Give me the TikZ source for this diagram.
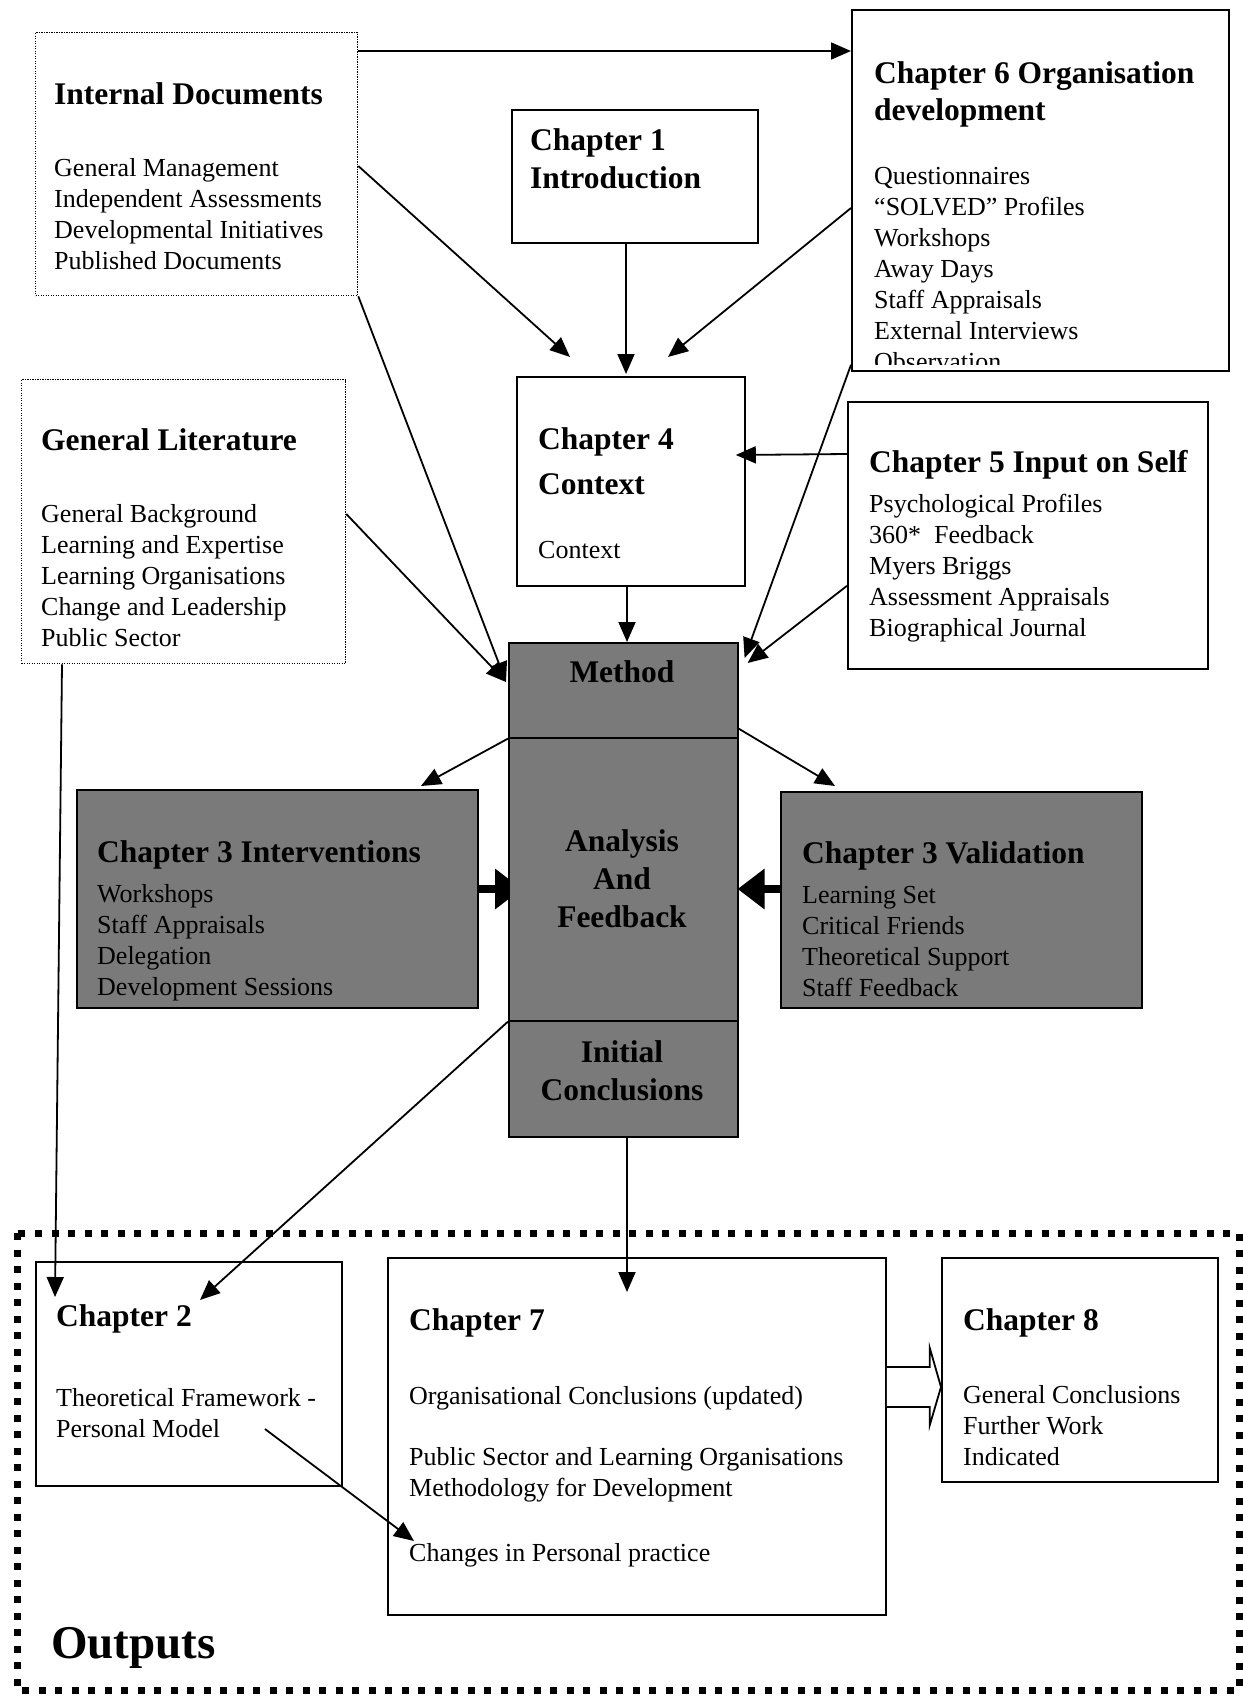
\documentclass[tikz,border=0pt]{standalone}
\usepackage{fontspec}
\setmainfont{Liberation Serif}
\usetikzlibrary{arrows.meta,backgrounds,calc}
\begin{document}
\begin{tikzpicture}[x=1pt,y=-1pt,
  box/.style={draw=black,line width=1.8pt,anchor=north west,inner sep=0pt},
  dotbox/.style={draw=black,line width=1.3pt,dash pattern=on 1.2pt off 1.3pt,anchor=north west,inner sep=0pt},
  graybox/.style={draw=black,line width=1.6pt,fill=black!52,anchor=north west,inner sep=0pt},
  ttl/.style={font=\fontsize{31.5}{37}\selectfont\bfseries,anchor=base west,inner sep=0pt,align=left},
  body/.style={font=\fontsize{26}{31}\selectfont,anchor=base west,inner sep=0pt,align=left},
  ctr/.style={font=\fontsize{31.5}{38}\selectfont\bfseries,anchor=base,inner sep=0pt,align=center},
  arr/.style={line width=1.8pt,-{Triangle[length=20pt,width=17pt]}},
  fatarr/.style={line width=8pt,-{Triangle[length=27pt,width=39pt]}},
  outline/.style={line width=7pt,dash pattern=on 7pt off 9.5pt},
]
\useasboundingbox (0,0) rectangle (1242,1697);

% ---------- boxes ----------
\node[dotbox,minimum width=322pt,minimum height=263pt] (intdoc) at (35,32) {};
\node[box,minimum width=246pt,minimum height=133pt] (ch1) at (511,109) {};
\node[box,minimum width=377pt,minimum height=361pt] (ch6) at (851,9) {};
\node[dotbox,minimum width=324pt,minimum height=284pt] (genlit) at (21,379) {};
\node[box,minimum width=228pt,minimum height=209pt] (ch4) at (516,376) {};
\node[box,minimum width=360pt,minimum height=267pt] (ch5) at (847,401) {};
\node[graybox,minimum width=229pt,minimum height=95pt] (method) at (508,642) {};
\node[graybox,minimum width=229pt,minimum height=283pt] (analysis) at (508,737) {};
\node[graybox,minimum width=229pt,minimum height=116pt] (initial) at (508,1020) {};
\node[graybox,minimum width=401pt,minimum height=218pt] (interv) at (76,789) {};
\node[graybox,minimum width=361pt,minimum height=216pt] (valid) at (780,791) {};
\node[box,minimum width=306pt,minimum height=224pt] (ch2) at (35,1261) {};
\node[box,minimum width=498pt,minimum height=357pt] (ch7) at (387,1257) {};
\node[box,minimum width=276pt,minimum height=224pt] (ch8) at (941,1257) {};
\draw[outline] (17,1233) rectangle (1239,1690);

% ---------- texts (base = baseline of the last line) ----------
\node[ttl] (intdocT) at (54,104) {Internal Documents};
\node[body] (intdocB) at (54,269) {General Management\\Independent Assessments\\Developmental Initiatives\\Published Documents};

\node[ttl,font=\fontsize{31.5}{38}\selectfont\bfseries] (ch1T) at (530,188) {Chapter 1\\Introduction};

\node[ttl] (ch6T) at (874,120) {Chapter 6 Organisation\\development};
\begin{scope}
\clip (851,9) rectangle (1228,364);
\node[body] (ch6B) at (874,370) {Questionnaires\\``SOLVED'' Profiles\\Workshops\\Away Days\\Staff Appraisals\\External Interviews\\Observation};
\end{scope}

\node[ttl] (genlitT) at (41,450) {General Literature};
\node[body] (genlitB) at (41,646) {General Background\\Learning and Expertise\\Learning Organisations\\Change and Leadership\\Public Sector};

\node[ttl,font=\fontsize{31.5}{45}\selectfont\bfseries] (ch4T) at (538,494) {Chapter 4\\Context};
\node[body] (ch4B) at (538,558) {Context};

\node[ttl] (ch5T) at (869,472) {Chapter 5 Input on Self};
\node[body] (ch5B) at (869,636) {Psychological Profiles\\360*\ \ Feedback\\Myers Briggs\\Assessment Appraisals\\Biographical Journal};

\node[ctr] (methodT) at (622,682) {Method};
\node[ctr] (analysisT) at (622,927) {Analysis\\And\\Feedback};
\node[ctr] (initialT) at (622,1100) {Initial\\Conclusions};

\node[ttl] (intervT) at (97,862) {Chapter 3 Interventions};
\node[body] (intervB) at (97,995) {Workshops\\Staff Appraisals\\Delegation\\Development Sessions};

\node[ttl] (validT) at (802,863) {Chapter 3 Validation};
\node[body] (validB) at (802,996) {Learning Set\\Critical Friends\\Theoretical Support\\Staff Feedback};

\node[ttl] (ch2T) at (56,1326) {Chapter 2};
\node[body] (ch2B) at (56,1437) {Theoretical Framework -\\Personal Model};

\node[ttl] (ch7T) at (409,1330) {Chapter 7};
\node[body] (ch7a) at (409,1404) {Organisational Conclusions (updated)};
\node[body] (ch7b) at (409,1496) {Public Sector and Learning Organisations\\Methodology for Development};
\node[body] (ch7c) at (409,1561) {Changes in Personal practice};

\node[ttl] (ch8T) at (963,1330) {Chapter 8};
\node[body] (ch8B) at (963,1465) {General Conclusions\\Further Work\\Indicated};

\node[ttl,font=\fontsize{47}{50}\selectfont\bfseries] (outT) at (51,1658) {Outputs};

% ---------- connectors ----------
\draw[arr] ($(intdoc.north east)+(0,19)$) -- ($(ch6.north west)+(0,42)$);
\draw[arr] ($(intdoc.north east)+(0,134)$) -- ($(ch4.north west)+(54,-19)$);
\draw[arr] ($(ch1.south west)+(115,0)$) -- ($(ch4.north west)+(110,-2)$);
\draw[arr] ($(ch6.north west)+(0,199)$) -- ($(ch4.north west)+(152,-19)$);
\draw[arr] (intdoc.south east) -- ($(method.north west)+(-2,40)$);
\draw[arr] ($(genlit.north east)+(0,135)$) -- ($(method.north west)+(-2,40)$);
\draw[arr] ($(ch6.south west)+(0,-7)$) -- ($(method.north east)+(6,16)$);
\draw[arr] ($(ch5.south west)+(0,-84)$) -- ($(method.north east)+(9,21)$);
\draw[arr] ($(ch5.north west)+(0,53)$) -- ($(ch4.north east)+(-10,79)$);
\draw[arr] ($(ch4.south west)+(111,0)$) -- ($(method.north west)+(119,0)$);
\draw[arr] (method.south west) -- ($(interv.north west)+(345,-3)$);
\draw[arr] ($(method.south east)+(0,-10)$) -- ($(valid.north west)+(55,-5)$);
\begin{pgfonlayer}{background}
\draw[fatarr] ($(interv.north east)+(0,100)$) -- ($(analysis.north west)+(14,152)$);
\end{pgfonlayer}
\draw[fatarr] ($(valid.north west)+(0,98)$) -- ($(analysis.north east)+(-1,152)$);
\draw[arr] ($(genlit.south west)+(41,0)$) -- ($(ch2.north west)+(20,36)$);
\draw[arr] (analysis.south west) -- ($(ch2.north west)+(165,39)$);
\draw[arr] ($(initial.south west)+(119,0)$) -- ($(ch7.north west)+(240,35)$);
\draw[arr] ($(ch2.north west)+(230,168)$) -- ($(ch7.north west)+(27,284)$);

% block arrow chapter 7 -> chapter 8
\coordinate (b1) at ($(ch7.north east)+(0,110)$);
\coordinate (b2) at ($(ch7.north east)+(43,110)$);
\coordinate (b3) at ($(ch7.north east)+(43,91)$);
\coordinate (b4) at ($(ch8.north west)+(0,130)$);
\coordinate (b5) at ($(ch7.north east)+(43,168)$);
\coordinate (b6) at ($(ch7.north east)+(43,150)$);
\coordinate (b7) at ($(ch7.north east)+(0,150)$);
\draw[line width=1.8pt,fill=white,line join=miter] (b1) -- (b2) -- (b3) -- (b4) -- (b5) -- (b6) -- (b7);
\end{tikzpicture}
\end{document}
